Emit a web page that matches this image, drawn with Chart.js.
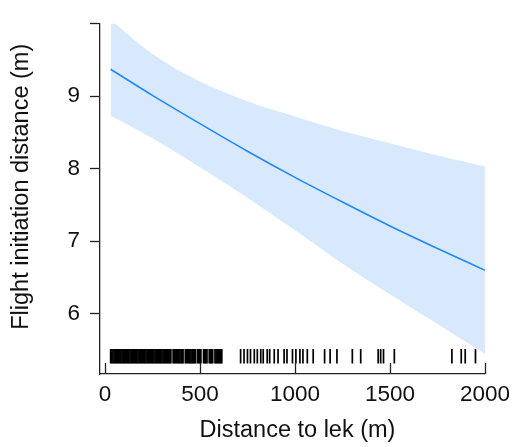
<!DOCTYPE html>
<html>
<head>
<meta charset="utf-8">
<script src="https://cdn.jsdelivr.net/npm/chart.js@4.4.1/dist/chart.umd.min.js"></script>
<style>
  html, body { margin: 0; padding: 0; background: #fff; }
  canvas { display: block; }
</style>
</head>
<body>
<canvas id="fidChart" width="517" height="447"></canvas>
<script>
// fitted flight initiation distance vs distance to lek, with confidence band
const distX = [30, 250, 500, 750, 1000, 1250, 1500, 1750, 2000];
const fitY = [9.37, 9.01, 8.62, 8.24, 7.88, 7.54, 7.21, 6.90, 6.60];
const upperY = [10.05, 9.58, 9.20, 8.93, 8.72, 8.52, 8.35, 8.18, 8.03];
const lowerY = [8.73, 8.42, 8.02, 7.60, 7.15, 6.69, 6.27, 5.86, 5.45];

// observed distances (rug along the bottom)
const rugX = [
    30, 36, 42, 48, 54, 60, 66, 72, 78, 84, 90, 96, 102, 108, 114, 120, 126, 132, 138, 144,
    150, 156, 162, 168, 174, 180, 186, 192, 198, 204, 210, 216, 222, 228, 234, 240, 246, 252,
    258, 264, 270, 276, 282, 288, 294, 300, 306, 312, 318, 324, 330, 336, 342, 347,
    359, 365, 371, 377, 383, 389, 395, 401, 407, 411,
    423, 429, 435, 441, 447, 453, 459, 465, 471, 476,
    487, 493, 499, 505, 519, 525, 531, 537, 549, 555, 561, 567,
    579, 585, 591, 597, 603, 609, 615,
    714, 732, 750, 766, 786, 802, 820, 833, 854, 867, 891, 911, 943, 958, 987,
    1005, 1026, 1042, 1065, 1096, 1156, 1185, 1221, 1302, 1346, 1438, 1451, 1466, 1523,
    1826, 1875, 1896, 1950
];
const rugLevel = 5.415;

const xTicks = [0, 500, 1000, 1500, 2000];
const yTicks = [6, 7, 8, 9, 10];
const xTitle = "Distance to lek (m)";
const yTitle = "Flight initiation distance (m)";

const axisColor = "#222";
const fontFamily = "'Liberation Sans', Arial, Helvetica, sans-serif";

// upward x ticks and the two axis titles
const axisExtras = {
    id: "axisExtras",
    afterDraw(chart) {
        const ctx = chart.ctx;
        const area = chart.chartArea;
        const x = chart.scales.x;
        ctx.save();
        ctx.strokeStyle = axisColor;
        ctx.lineWidth = 1.3;
        xTicks.forEach(function (v) {
            const px = Math.round(x.getPixelForValue(v)) + 0.5;
            ctx.beginPath();
            ctx.moveTo(px, area.bottom);
            ctx.lineTo(px, area.bottom - 11);
            ctx.stroke();
        });
        ctx.fillStyle = "#111";
        ctx.font = "23.5px " + fontFamily;
        ctx.textAlign = "center";
        ctx.textBaseline = "middle";
        ctx.fillText(xTitle, (area.left + area.right) / 2 + 5, area.bottom + 57);
        ctx.translate(22, (area.top + area.bottom) / 2 - 12);
        ctx.rotate(-Math.PI / 2);
        ctx.fillText(yTitle, 0, 0);
        ctx.restore();
    }
};

const ctx = document.getElementById("fidChart").getContext("2d");
new Chart(ctx, {
    type: "line",
    data: {
        datasets: [
            {
                label: "upper",
                data: distX.map((d, i) => ({ x: d, y: upperY[i] })),
                borderWidth: 0,
                pointRadius: 0,
                backgroundColor: "rgb(216, 233, 253)",
                fill: "+1",
                clip: 8,
                order: 3,
                cubicInterpolationMode: "monotone",
            },
            {
                label: "lower",
                data: distX.map((d, i) => ({ x: d, y: lowerY[i] })),
                borderWidth: 0,
                pointRadius: 0,
                fill: false,
                clip: 8,
                order: 2,
                cubicInterpolationMode: "monotone",
            },
            {
                label: "fit",
                data: distX.map((d, i) => ({ x: d, y: fitY[i] })),
                borderColor: "#2189f3",
                borderWidth: 1.6,
                pointRadius: 0,
                fill: false,
                order: 0,
                cubicInterpolationMode: "monotone",
            },
            {
                type: "scatter",
                label: "rug",
                data: rugX.map(d => ({ x: d, y: rugLevel })),
                pointStyle: "line",
                rotation: 90,
                radius: 7.2,
                borderColor: "#000",
                borderWidth: 1.7,
                order: 1,
            },
        ],
    },
    options: {
        responsive: false,
        animation: false,
        events: [],
        layout: { padding: { top: 14, right: 28, left: 0, bottom: 0 } },
        plugins: {
            legend: { display: false },
            tooltip: { enabled: false },
        },
        scales: {
            x: {
                type: "linear",
                min: -26,
                max: 2000,
                afterBuildTicks: s => { s.ticks = xTicks.map(v => ({ value: v })); },
                afterFit: s => { s.height = 73; },
                grid: { display: false, drawTicks: false },
                border: { display: true, color: axisColor, width: 1.3 },
                ticks: {
                    color: "#111",
                    padding: 7,
                    maxRotation: 0,
                    font: { size: 22.5, family: fontFamily },
                    callback: v => String(v),
                },
            },
            y: {
                type: "linear",
                min: 5.171,
                max: 10,
                afterBuildTicks: s => { s.ticks = yTicks.map(v => ({ value: v })); },
                afterFit: s => { s.width = 100; },
                grid: {
                    drawOnChartArea: false,
                    drawTicks: true,
                    tickLength: 10,
                    tickColor: axisColor,
                    tickWidth: 1.3,
                },
                border: { display: true, color: axisColor, width: 1.3 },
                ticks: {
                    color: "#111",
                    padding: 10,
                    font: { size: 22.5, family: fontFamily },
                    callback: v => (v === 10 ? "" : String(v)),
                },
            },
        },
    },
    plugins: [axisExtras],
});
</script>
</body>
</html>
